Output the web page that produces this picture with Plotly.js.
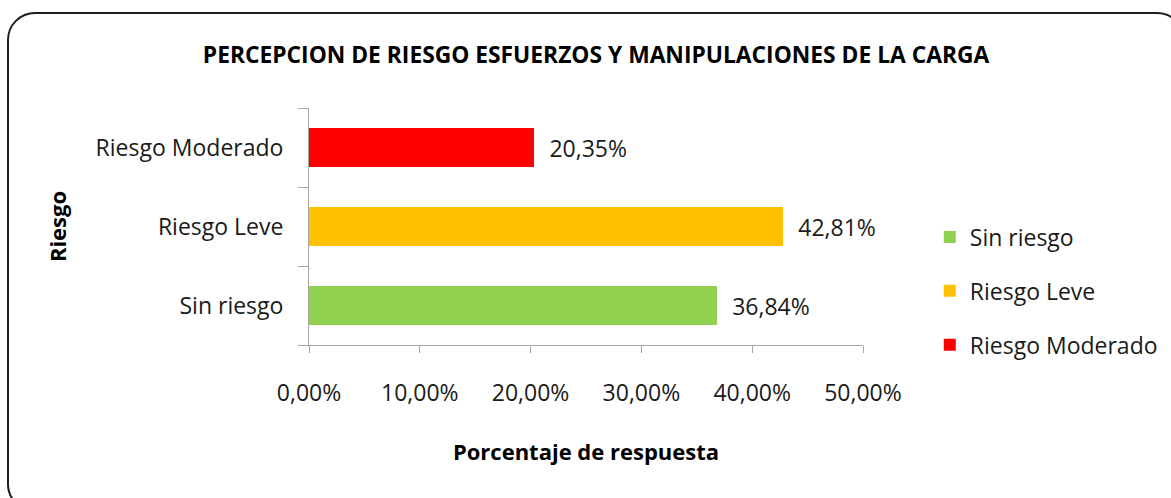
<!DOCTYPE html>
<html>
<head>
<meta charset="utf-8">
<script src="https://cdn.plot.ly/plotly-3.0.1.min.js"></script>
<style>
  html, body { margin: 0; padding: 0; background: #fff; overflow: hidden; }
  #wrap { position: relative; width: 1171px; height: 498px; }
  #chart { width: 1171px; height: 498px; }
  #frame { position: absolute; left: 7px; top: 12px; width: 1178px; height: 500px;
           border: 2.5px solid #1e1e1e; border-radius: 28px; pointer-events: none; box-sizing: border-box; }
</style>
</head>
<body>
<div id="wrap">
  <div id="chart"></div>
  <div id="frame"></div>
</div>
<script>
const categories = ["Sin riesgo", "Riesgo Leve", "Riesgo Moderado"];
const values = [0.3684, 0.4281, 0.2035];
const colors = ["#92D050", "#FFC000", "#FF0000"];
const xTickVals = [0, 0.1, 0.2, 0.3, 0.4, 0.5];

const FONT = "Open Sans, Noto Sans, sans-serif";

const traces = categories.map((c, i) => ({
  type: "bar",
  orientation: "h",
  name: c,
  legendgroup: c,
  y: [c],
  x: [values[i]],
  marker: { color: colors[i] },
  text: [values[i]],
  texttemplate: "  %{x:.2%}",
  textposition: "outside",
  cliponaxis: false,
  textfont: { family: FONT, size: 23, color: "#1a1a1a" },
  hoverinfo: "none"
}));

const layout = {
  width: 1171,
  height: 498,
  margin: { l: 309, r: 308, t: 108, b: 153 },
  paper_bgcolor: "#ffffff",
  plot_bgcolor: "#ffffff",
  separators: ",.",
  barmode: "stack",
  bargap: 0.5,
  showlegend: true,
  font: { family: FONT, color: "#1a1a1a" },
  title: {
    text: "<b>PERCEPCION DE RIESGO ESFUERZOS Y MANIPULACIONES DE LA CARGA</b>",
    font: { family: FONT, size: 22.8, color: "#000" },
    x: 0.509, xanchor: "center", xref: "container",
    y: 0.889, yanchor: "middle", yref: "container"
  },
  xaxis: {
    range: [0, 0.5],
    tickvals: xTickVals,
    tickformat: ".2%",
    showgrid: false,
    zeroline: false,
    showline: true,
    linecolor: "#a6a6a6",
    linewidth: 1,
    ticks: "outside",
    ticklen: 7,
    tickcolor: "#a6a6a6",
    tickfont: { family: FONT, size: 23, color: "#1a1a1a" },
    ticklabelstandoff: 20,
    title: {
      text: "<b>Porcentaje de respuesta</b>",
      font: { family: FONT, size: 22, color: "#000" },
      standoff: 38
    },
    fixedrange: true
  },
  yaxis: {
    type: "category",
    categoryorder: "array",
    categoryarray: categories,
    showgrid: false,
    zeroline: false,
    showline: true,
    linecolor: "#a6a6a6",
    linewidth: 1,
    ticks: "outside",
    tickson: "boundaries",
    ticklen: 10,
    tickcolor: "#a6a6a6",
    tickfont: { family: FONT, size: 23, color: "#1a1a1a" },
    ticklabelstandoff: 20,
    title: {
      text: "<b>Riesgo</b>",
      font: { family: FONT, size: 22, color: "#000" },
      standoff: 22
    },
    fixedrange: true
  },
  legend: {
    xref: "container", yref: "container",
    x: 0.794, xanchor: "left",
    y: 0.4157, yanchor: "middle",
    traceorder: "grouped",
    tracegroupgap: 21,
    font: { family: FONT, size: 23, color: "#1a1a1a" },
    bgcolor: "rgba(0,0,0,0)",
    itemclick: false, itemdoubleclick: false
  }
};

Plotly.newPlot("chart", traces, layout, { staticPlot: true, displayModeBar: false });
</script>
</body>
</html>
